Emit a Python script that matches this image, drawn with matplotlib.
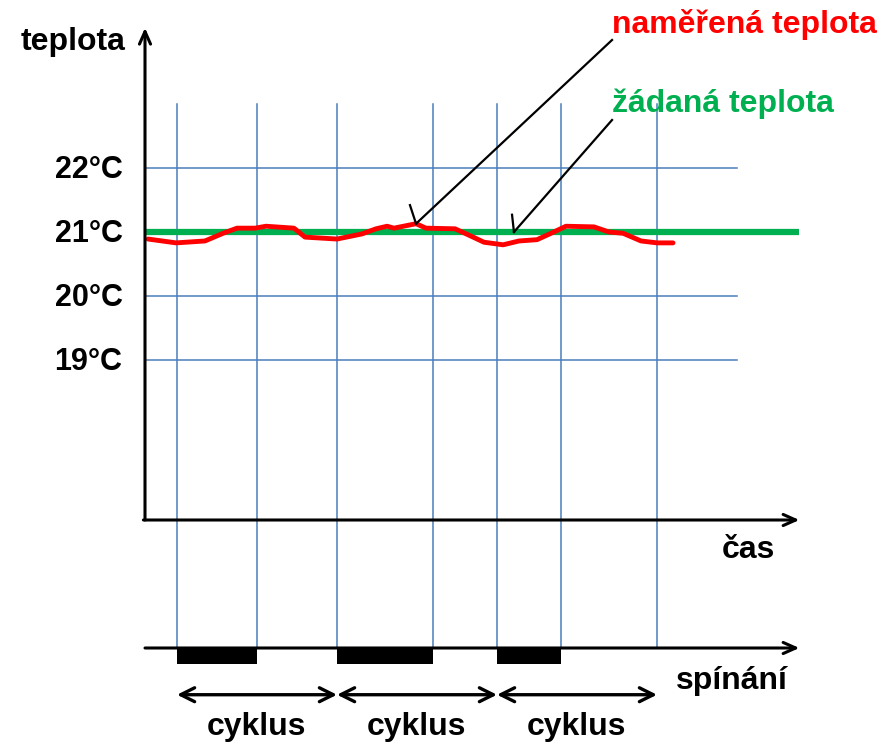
import matplotlib
matplotlib.use("Agg")
import matplotlib.pyplot as plt

plt.rcParams['font.family'] = ['Liberation Sans', 'DejaVu Sans']
plt.rcParams['font.weight'] = 'bold'

# ---- data ----
temp_ticks = [19, 20, 21, 22]
temp_labels = ["19°C", "20°C", "21°C", "22°C"]
setpoint = 21.0
meas_t = [0.19, 1.94, 3.75, 4.88, 5.75, 6.88, 7.56, 9.31, 10.0, 12.0, 13.56, 14.44,
          15.13, 15.56, 16.94, 17.56, 19.38, 20.25, 21.19, 22.38, 23.38, 24.5,
          25.38, 26.31, 28.06, 29.0, 29.88, 31.0, 32.0, 33.0]
meas_T = [20.89, 20.83, 20.86, 20.98, 21.06, 21.06, 21.09, 21.06, 20.92, 20.89, 20.97,
          21.05, 21.09, 21.06, 21.13, 21.06, 21.05, 20.95, 20.84, 20.80, 20.86, 20.88,
          20.98, 21.09, 21.08, 21.0, 20.98, 20.86, 20.83, 20.83]
grid_times = [2, 7, 12, 18, 22, 26, 32]
on_intervals = [(2, 7), (12, 18), (22, 26)]
cycles = [(2, 12), (12, 22), (22, 32)]
cycle_label = "cyklus"

# ---- layout ----
fig = plt.figure(figsize=(8.89, 7.44), dpi=100)
ax = fig.add_axes([0, 0, 1, 1])
ax.set_xlim(-145 / 16, (889 - 145) / 16)
ax.set_ylim(13.0, 24.625)
ax.axis('off')

blue = '#4a7ebb'
t0 = 0.0
t_end = 40.9
T_axis = 16.5
T_top = 24.19
T_switch = 14.5
T_grid_top = 23.0
t_hgrid_end = 37.0
fs = 23

# horizontal grid lines
for T in temp_ticks:
    ax.plot([t0, t_hgrid_end], [T, T], color=blue, lw=1.1, zorder=1)
# vertical grid lines
for t in grid_times:
    ax.plot([t, t], [T_switch, T_grid_top], color=blue, lw=1.1, zorder=1)

# setpoint line
ax.plot([t0, t_end], [setpoint, setpoint], color='#00b050', lw=4.5, zorder=3,
        solid_capstyle='butt')
# measured line
ax.plot(meas_t, meas_T, color='#ff0000', lw=3.5, zorder=4, solid_capstyle='round',
        solid_joinstyle='round')

arrow_kw = dict(arrowstyle='->,head_length=0.9,head_width=0.4', lw=2.2, color='black',
                shrinkA=0, shrinkB=0)
# y axis
ax.annotate('', xy=(t0, T_top), xytext=(t0, T_axis), arrowprops=arrow_kw, zorder=5)
# time axis
ax.annotate('', xy=(t_end, T_axis), xytext=(t0 - 0.1, T_axis), arrowprops=arrow_kw, zorder=5)
# switching axis
ax.annotate('', xy=(t_end, T_switch), xytext=(t0, T_switch), arrowprops=arrow_kw, zorder=5)

# switching bars
for a, b in on_intervals:
    ax.fill_between([a, b], T_switch - 0.25, T_switch, color='black', lw=0, zorder=5)

# cycles
dbl_kw = dict(arrowstyle='<->,head_length=1.0,head_width=0.5', lw=2.4, color='black',
              shrinkA=0, shrinkB=0)
for a, b in cycles:
    ax.annotate('', xy=(b, 13.77), xytext=(a, 13.77), arrowprops=dbl_kw)
    ax.text((a + b) / 2, 13.14, cycle_label, ha='center', va='baseline', fontsize=fs,
            fontweight='bold')

# tick labels
for T, lab in zip(temp_ticks, temp_labels):
    ax.text(-1.4, T - 0.16, lab, ha='right', va='baseline', fontsize=22, fontweight='bold')

ax.text(-4.5, 23.84, "teplota", ha='center', va='baseline', fontsize=fs, fontweight='bold')
ax.text(37.7, 15.9, "čas", ha='center', va='baseline', fontsize=fs, fontweight='bold')
ax.text(36.7, 13.86, "spínání", ha='center', va='baseline', fontsize=fs, fontweight='bold')

# annotations
ax.text(29.19, 24.11, "naměřená teplota", ha='left', va='baseline', fontsize=fs,
        fontweight='bold', color='#ff0000')
ax.text(29.19, 22.875, "žádaná teplota", ha='left', va='baseline', fontsize=fs,
        fontweight='bold', color='#00b050')
# pointer to measured curve
mi = 14
ax.plot([29.19, meas_t[mi]], [24.0, meas_T[mi]], color='black', lw=1.6, zorder=6)
ax.plot([meas_t[mi] - 0.38, meas_t[mi]], [meas_T[mi] + 0.29, meas_T[mi]],
        color='black', lw=1.6, zorder=6)
# pointer to setpoint
ax.plot([29.19, 23.06], [22.75, setpoint], color='black', lw=1.6, zorder=6)
ax.plot([22.94, 23.06], [setpoint + 0.27, setpoint], color='black', lw=1.6, zorder=6)

fig.savefig("out.png", dpi=100)
